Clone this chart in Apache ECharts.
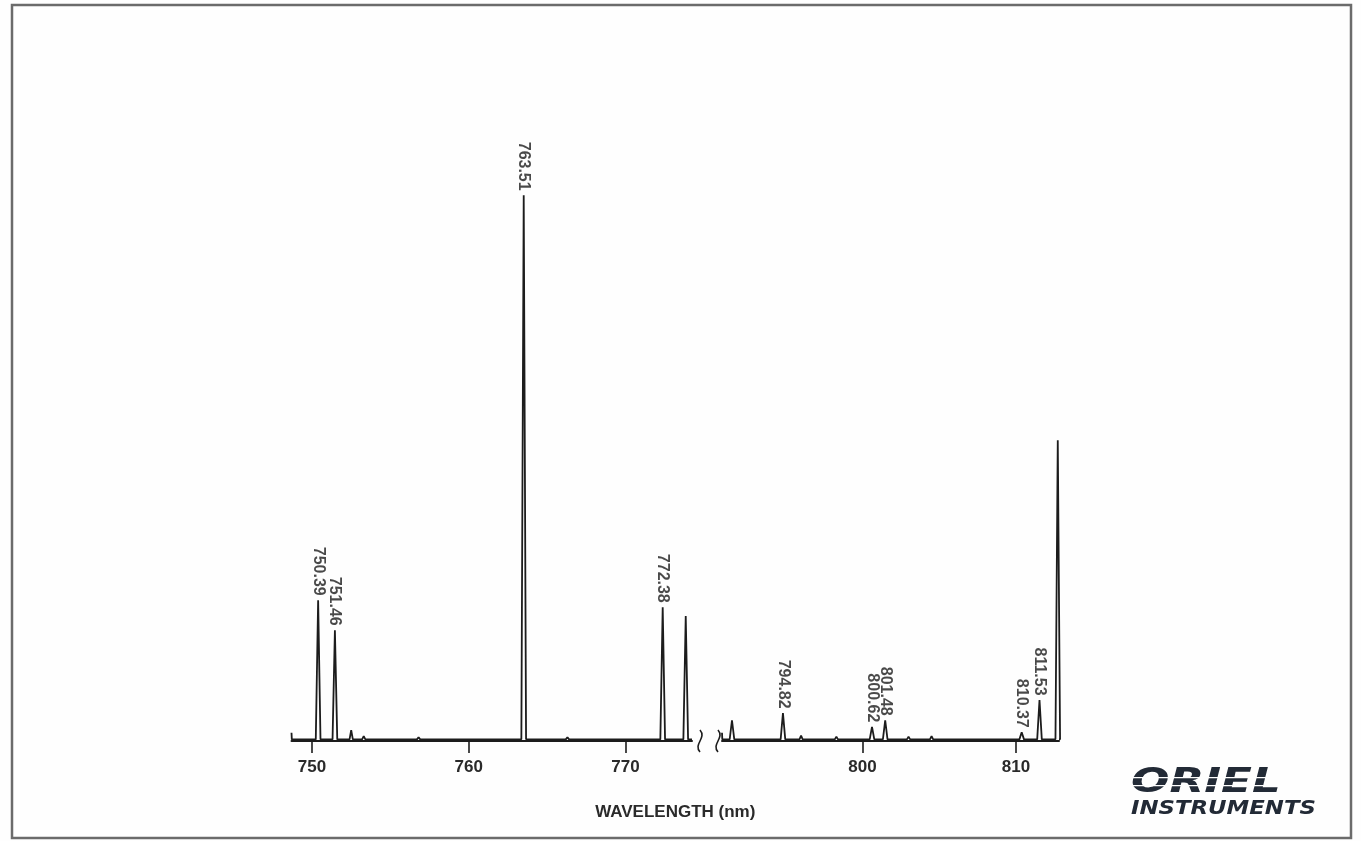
<!DOCTYPE html>
<html>
<head>
<meta charset="utf-8">
<script src="https://cdn.jsdelivr.net/npm/echarts@6/dist/echarts.min.js"></script>
<style>
  html, body { margin: 0; padding: 0; background: #ffffff; }
  #chart { width: 1361px; height: 841px; }
</style>
</head>
<body>
<div id="chart"></div>
<script>
// Argon lamp emission spectrum, shown in two wavelength windows (nm)
const leftTicks = [750, 760, 770];
const rightTicks = [800, 810];

// Identified lines (wavelength, relative intensity, 763.51 = 100)
const labeledLines = [750.39, 751.46, 763.51, 772.38, 794.82, 800.62, 801.48, 810.37, 811.53];
const labeledIntensity = [25.8, 20.3, 100, 24.5, 5.1, 2.6, 3.8, 1.6, 7.5];

// Lines drawn without a caption
const otherLines = [773.85, 791.5, 812.72];
const otherIntensity = [22.9, 3.8, 55.1];

// Weak features along the baseline
const minorLines = [752.5, 753.3, 756.8, 762.0, 766.3, 769.5, 796.0, 798.3, 803.0, 804.5, 806.5, 808.4];
const minorIntensity = [2.0, 0.9, 0.7, 0.6, 0.7, 0.6, 1.0, 0.8, 0.8, 0.9, 0.6, 0.6];

// Visible wavelength windows either side of the axis break
const leftRange = [748.69, 774.25];
const rightRange = [790.85, 812.8];

const BASE = 0.3;       // baseline level of the trace
const HALF = 0.15;      // half width of each line profile (nm)
const INK = '#1c1c1c';

function buildTrace(range) {
  const lines = [];
  labeledLines.forEach((w, i) => lines.push({ w, h: labeledIntensity[i] }));
  otherLines.forEach((w, i) => lines.push({ w, h: otherIntensity[i] }));
  minorLines.forEach((w, i) => lines.push({ w, h: minorIntensity[i], minor: true }));
  const inside = lines.filter(l => l.w >= range[0] && l.w <= range[1]).sort((a, b) => a.w - b.w);
  const pts = [[range[0], 1.5], [range[0] + 0.02, BASE]];
  inside.forEach(l => {
    const hw = l.minor ? HALF * 0.7 : HALF;
    pts.push([l.w - hw, BASE]);
    pts.push([l.w, l.h]);
    pts.push([l.w + hw, BASE]);
  });
  pts.push([range[1], BASE]);
  return pts;
}

function captions(range) {
  const out = [];
  labeledLines.forEach((w, i) => {
    if (w >= range[0] && w <= range[1]) out.push([w, labeledIntensity[i]]);
  });
  return out;
}

const labelStyle = {
  show: true,
  position: 'top',
  distance: 4,
  rotate: -90,
  align: 'right',
  verticalAlign: 'middle',
  formatter: p => p.value[0].toFixed(2),
  fontFamily: 'Liberation Sans, Arial, sans-serif',
  fontSize: 16,
  fontWeight: 'bold',
  color: INK
};

function xAxisFor(idx, range, ticks) {
  return {
    type: 'value',
    gridIndex: idx,
    min: range[0],
    max: range[1],
    splitLine: { show: false },
    axisLine: { show: true, lineStyle: { color: INK, width: 2 } },
    axisTick: { show: true, customValues: ticks, length: 12, lineStyle: { color: INK, width: 1.6 } },
    axisLabel: {
      show: true,
      customValues: ticks,
      margin: 18,
      fontFamily: 'Liberation Sans, Arial, sans-serif',
      fontSize: 17,
      fontWeight: 'bold',
      color: '#2a2a2a'
    }
  };
}

function yAxisFor(idx) {
  return { type: 'value', gridIndex: idx, min: 0, max: 120, show: false };
}

const grids = [
  { left: 291.5, right: 669, top: 86, bottom: 100 },
  { left: 722, right: 302, top: 86, bottom: 100 }
];

const chart = echarts.init(document.getElementById('chart'), null, { renderer: 'canvas' });

const axisY = 841 - grids[0].bottom;
const leftEnd = 1361 - grids[0].right;
const rightStart = grids[1].left;
const midX = (grids[0].left + (1361 - grids[1].right)) / 2;

function squiggle(x) {
  return {
    type: 'bezierCurve',
    shape: { x1: x, y1: axisY - 11, cpx1: x + 7, cpy1: axisY - 3, cpx2: x - 7, cpy2: axisY + 3, x2: x, y2: axisY + 11 },
    style: { stroke: INK, lineWidth: 1.6, fill: null }
  };
}

function traceSeries(idx, range) {
  return {
    type: 'line', xAxisIndex: idx, yAxisIndex: idx,
    data: buildTrace(range),
    showSymbol: false, symbol: 'none',
    lineStyle: { color: INK, width: 1.8 },
    z: 2
  };
}

function captionSeries(idx, range) {
  return {
    type: 'scatter', xAxisIndex: idx, yAxisIndex: idx,
    data: captions(range),
    symbol: 'circle', symbolSize: 1,
    itemStyle: { color: 'rgba(0,0,0,0)' },
    label: labelStyle,
    z: 3
  };
}

chart.setOption({
  backgroundColor: '#fefefe',
  animation: false,
  grid: grids,
  xAxis: [xAxisFor(0, leftRange, leftTicks), xAxisFor(1, rightRange, rightTicks)],
  yAxis: [yAxisFor(0), yAxisFor(1)],
  series: [
    traceSeries(0, leftRange),
    traceSeries(1, rightRange),
    captionSeries(0, leftRange),
    captionSeries(1, rightRange)
  ],
  graphic: [
    {
      type: 'rect',
      shape: { x: 12, y: 5, width: 1339, height: 833 },
      style: { fill: null, stroke: '#6b6b6b', lineWidth: 2.5 },
      silent: true
    },
    squiggle(leftEnd + 8),
    squiggle(rightStart - 4),
    {
      type: 'text',
      x: midX, y: 812,
      style: {
        text: 'WAVELENGTH (nm)',
        textAlign: 'center', textVerticalAlign: 'middle',
        font: 'bold 17px "Liberation Sans", Arial, sans-serif',
        fill: '#2a2a2a'
      }
    },
    {
      type: 'text',
      x: 1131, y: 766, scaleX: 1.33,
      style: {
        text: 'ORIEL',
        textVerticalAlign: 'top',
        font: 'italic bold 34px "DejaVu Sans", sans-serif',
        fill: '#222a36'
      }
    },
    { type: 'rect', shape: { x: 1126, y: 777, width: 170, height: 1.3 }, style: { fill: '#fefefe' } },
    { type: 'rect', shape: { x: 1126, y: 785, width: 170, height: 1.3 }, style: { fill: '#fefefe' } },
    {
      type: 'text',
      x: 1131, y: 799, scaleX: 1.14,
      style: {
        text: 'INSTRUMENTS',
        textVerticalAlign: 'top',
        font: 'italic bold 20px "DejaVu Sans", sans-serif',
        fill: '#222a36'
      }
    }
  ]
});
</script>
</body>
</html>
